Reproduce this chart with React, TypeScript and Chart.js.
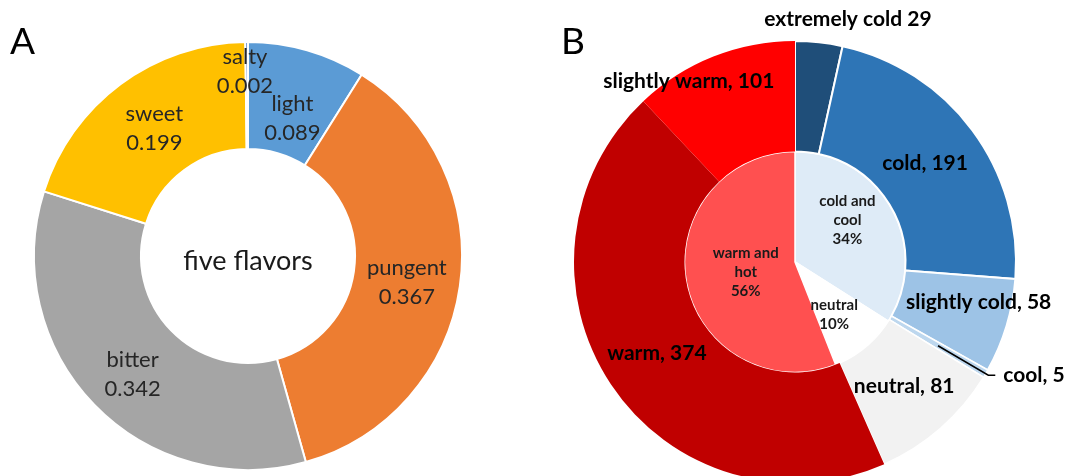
import { useEffect, useRef } from "react";
import { Chart, registerables } from "chart.js";

Chart.register(...registerables);

// ---------- Panel A data ----------
const flavorNames = ["light", "pungent", "bitter", "sweet", "salty"];
const flavorValues = [0.089, 0.367, 0.342, 0.199, 0.002];
const flavorColors = ["#5B9BD5", "#ED7D31", "#A5A5A5", "#FFC000", "#4472C4"];
const flavorCenterText = "five flavors";

// ---------- Panel B data ----------
const natureNames = ["extremely cold", "cold", "slightly cold", "cool", "neutral", "warm", "slightly warm"];
const natureCounts = [29, 191, 58, 5, 81, 374, 101];
const natureColors = ["#1F4E79", "#2E75B6", "#9DC3E6", "#BDD7EE", "#F2F2F2", "#C00000", "#FF0000"];
const natureBorderWidths = [2, 2, 2, 1.5, 1.5, 0, 0];

const groupNames = ["cold and cool", "neutral", "warm and hot"];
const groupPercents = [34, 10, 56];
const groupColors = ["#DEEBF7", "#FFFFFF", "#FF5050"];

const FONT = "Lato, 'Open Sans', sans-serif";

type LabelItem = {
  dataset: number;
  index: number;
  lines: string[];
  font: string;
  color: string;
  lineHeight: number;
  dx: number;
  dy: number;
  leader?: boolean;
};

const arcLabelPlugin = {
  id: "arcLabels",
  afterDatasetsDraw(chart: any, _args: any, opts: any) {
    const ctx: CanvasRenderingContext2D = chart.ctx;
    const items: LabelItem[] = opts.items || [];
    ctx.save();
    for (const it of items) {
      const meta = chart.getDatasetMeta(it.dataset);
      const arc: any = meta.data[it.index];
      if (!arc) continue;
      const c = arc.tooltipPosition();
      ctx.font = it.font;
      ctx.fillStyle = it.color;
      ctx.textBaseline = "middle";
      if (it.leader) {
        const p = arc.getProps(["x", "y", "startAngle", "endAngle", "outerRadius"], true);
        const mid = (p.startAngle + p.endAngle) / 2;
        const ex = p.x + Math.cos(mid) * (p.outerRadius + 3);
        const ey = p.y + Math.sin(mid) * (p.outerRadius + 3);
        ctx.strokeStyle = "#000";
        ctx.lineWidth = 1.6;
        ctx.beginPath();
        ctx.moveTo(c.x, c.y);
        ctx.lineTo(ex, ey);
        ctx.lineTo(ex + 7, ey);
        ctx.stroke();
        ctx.textAlign = "left";
        ctx.fillText(it.lines[0], ex + 15, ey);
        continue;
      }
      ctx.textAlign = "center";
      const n = it.lines.length;
      it.lines.forEach((ln, k) => {
        const y = c.y + it.dy + (k - (n - 1) / 2) * it.lineHeight;
        ctx.fillText(ln, c.x + it.dx, y);
      });
    }
    ctx.restore();
  },
};

const centerTextPlugin = {
  id: "centerText",
  afterDatasetsDraw(chart: any, _args: any, opts: any) {
    if (!opts.text) return;
    const arc: any = chart.getDatasetMeta(0).data[0];
    if (!arc) return;
    const ctx: CanvasRenderingContext2D = chart.ctx;
    ctx.save();
    ctx.font = opts.font;
    ctx.fillStyle = opts.color;
    ctx.textAlign = "center";
    ctx.textBaseline = "middle";
    ctx.fillText(opts.text, arc.x, arc.y + opts.dy);
    ctx.restore();
  },
};

const flavorOffsets: [number, number][] = [
  [0, 17],
  [0, 4],
  [0, 7],
  [2, 1],
  [-2, -24],
];

const natureOffsets: [number, number][] = [
  [35, -78],
  [-3, 0],
  [25, -8],
  [0, 0],
  [0, 0],
  [0, 0],
  [-45, -27],
];

const groupOffsets: [number, number][] = [
  [4, -15],
  [4, 10],
  [5, 0],
];

export default function App() {
  const refA = useRef<HTMLCanvasElement>(null);
  const refB = useRef<HTMLCanvasElement>(null);

  useEffect(() => {
    const aItems: LabelItem[] = flavorNames.map((name, i) => ({
      dataset: 0,
      index: i,
      lines: [name, flavorValues[i].toFixed(3)],
      font: `22px ${FONT}`,
      color: "#262626",
      lineHeight: 29,
      dx: flavorOffsets[i][0],
      dy: flavorOffsets[i][1],
    }));

    const chartA = new Chart(refA.current!, {
      type: "doughnut",
      data: {
        labels: flavorNames,
        datasets: [
          {
            data: flavorValues,
            backgroundColor: flavorColors,
            borderColor: "#FFFFFF",
            borderWidth: 2,
          },
        ],
      },
      options: {
        animation: false,
        responsive: false,
        cutout: "50%",
        layout: { padding: { left: 33, right: 77, top: 41, bottom: 29 } },
        plugins: {
          legend: { display: false },
          tooltip: { enabled: false },
          arcLabels: { items: aItems },
          centerText: { text: flavorCenterText, font: `27px ${FONT}`, color: "#1a1a1a", dy: 5 },
        } as any,
      },
      plugins: [arcLabelPlugin, centerTextPlugin],
    });

    const bItems: LabelItem[] = [
      ...natureNames.map((name, i) => ({
        dataset: 0,
        index: i,
        lines: [`${name}${i === 0 ? " " : ", "}${natureCounts[i]}`],
        font: `bold 21px ${FONT}`,
        color: "#000000",
        lineHeight: 24,
        dx: natureOffsets[i][0],
        dy: natureOffsets[i][1],
        leader: name === "cool",
      })),
      ...groupNames.map((name, i) => {
        const words = name.split(" ");
        const lines = words.length === 3 ? [`${words[0]} ${words[1]}`, words[2]] : [name];
        return {
          dataset: 1,
          index: i,
          lines: [...lines, `${groupPercents[i]}%`],
          font: `bold 15px ${FONT}`,
          color: "#1a1a1a",
          lineHeight: 19,
          dx: groupOffsets[i][0],
          dy: groupOffsets[i][1],
        };
      }),
    ];

    const chartB = new Chart(refB.current!, {
      type: "doughnut",
      data: {
        labels: natureNames,
        datasets: [
          {
            data: natureCounts,
            backgroundColor: natureColors,
            borderColor: "#FFFFFF",
            borderWidth: natureBorderWidths,
          },
          {
            data: groupPercents,
            backgroundColor: groupColors,
            borderColor: "#FFFFFF",
            borderWidth: 1.5,
          },
        ],
      },
      options: {
        animation: false,
        responsive: false,
        cutout: 0,
        layout: { padding: { left: 33, right: 53, top: 40, bottom: 16 } },
        plugins: {
          legend: { display: false },
          tooltip: { enabled: false },
          arcLabels: { items: bItems },
        } as any,
      },
      plugins: [arcLabelPlugin],
    });

    return () => {
      chartA.destroy();
      chartB.destroy();
    };
  }, []);

  const letterStyle: React.CSSProperties = {
    position: "absolute",
    fontFamily: FONT,
    fontSize: 37,
    lineHeight: "37px",
    color: "#000",
  };

  return (
    <div
      style={{
        position: "fixed",
        left: 0,
        top: 0,
        width: 1070,
        height: 476,
        overflow: "hidden",
        background: "#FFFFFF",
      }}
    >
      <canvas ref={refA} width={540} height={500} style={{ position: "absolute", left: 0, top: 0 }} />
      <canvas ref={refB} width={530} height={500} style={{ position: "absolute", left: 540, top: 0 }} />
      <div style={{ ...letterStyle, left: 10, top: 21 }}>A</div>
      <div style={{ ...letterStyle, left: 561, top: 21 }}>B</div>
    </div>
  );
}
